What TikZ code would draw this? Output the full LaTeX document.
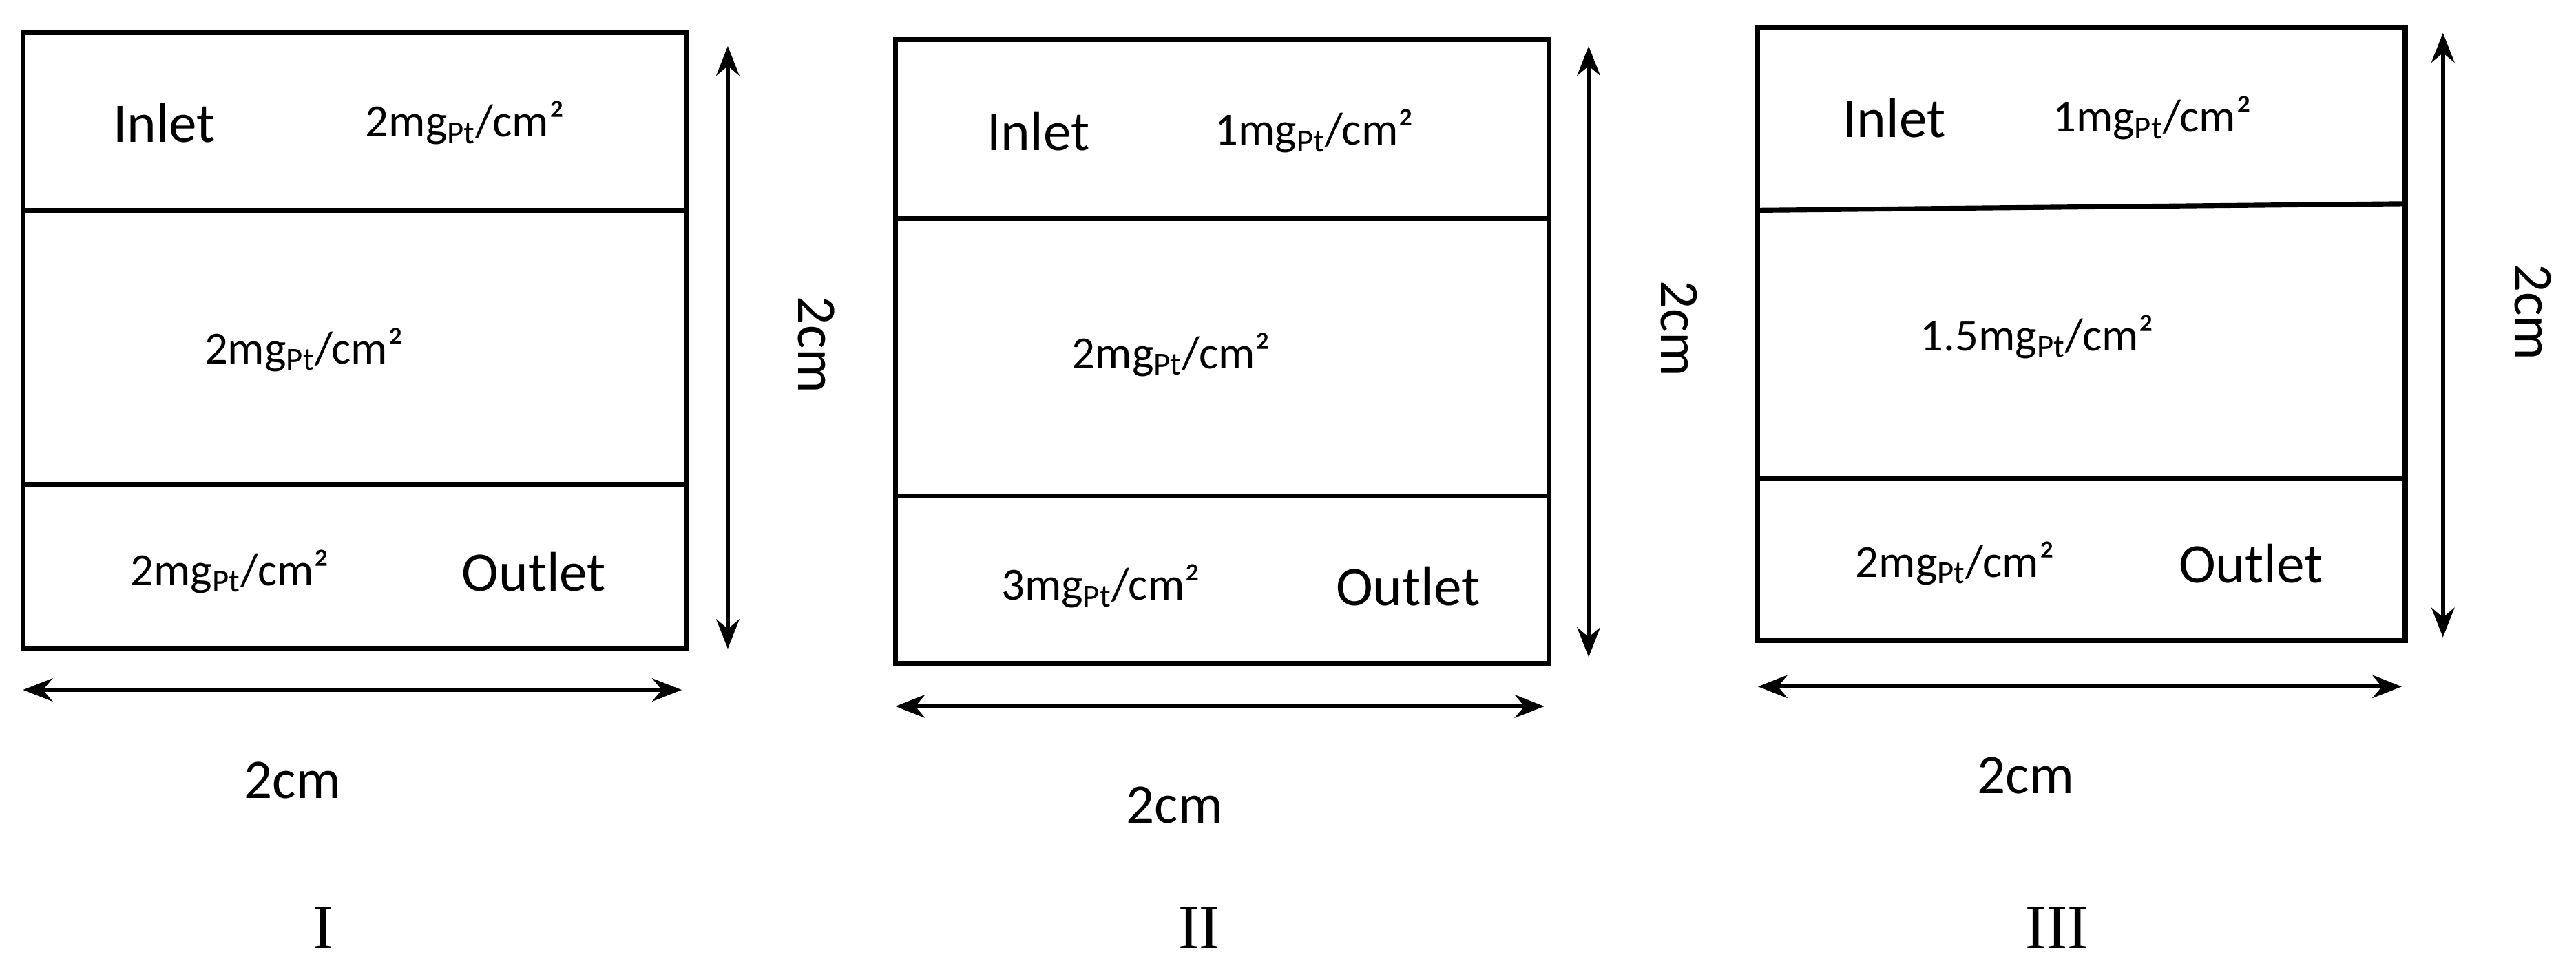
\documentclass[tikz,border=0pt]{standalone}
\usepackage{fontspec}
\setmainfont{Carlito}
\newfontfamily\serifnum{Liberation Serif}
\usetikzlibrary{arrows.meta}
\begin{document}
\begin{tikzpicture}[x=1pt,y=-1pt,
 box/.style={line width=3pt},
 dim/.style={line width=2.5pt,{Stealth[length=18pt,width=14pt]}-{Stealth[length=18pt,width=14pt]}},
 lab/.style={font=\fontsize{34}{38}\selectfont},
 sm/.style={font=\fontsize{28}{32}\selectfont},
 num/.style={font=\serifnum\fontsize{38}{42}\selectfont}]
\useasboundingbox (0,0) rectangle (1568,589);
\newcommand\mg[1]{#1mg\textsubscript{Pt}/cm²}
% Box I
\draw[box] (14,20) rectangle (418,395);
\draw[box] (14,128) -- (418,128); \draw[box] (14,295) -- (418,295);
\coordinate (a1) at (443,28); \coordinate (a2) at (443,395);
\draw[dim] (a1) -- (a2);
\coordinate (b1) at (14,420); \coordinate (b2) at (415,420);
\draw[dim] (b1) -- (b2);
\node[lab] (i1) at (100,75) {Inlet};
\node[sm] (i2) at (283,75) {\mg{2}};
\node[sm] (i3) at (185,213) {\mg{2}};
\node[sm] (i4) at (140,348) {\mg{2}};
\node[lab] (i5) at (325,348) {Outlet};
\node[lab] (i6) at (178,475) {2cm};
\node[lab,rotate=-90] (i7) at (497,210) {2cm};
\node[num] (i8) at (197,565) {I};
% Box II
\draw[box] (545,24) rectangle (943,404);
\draw[box] (545,133) -- (943,133); \draw[box] (545,302) -- (943,302);
\coordinate (c1) at (967,28); \coordinate (c2) at (967,400);
\draw[dim] (c1) -- (c2);
\coordinate (d1) at (545,430); \coordinate (d2) at (940,430);
\draw[dim] (d1) -- (d2);
\node[lab] (j1) at (632,80) {Inlet};
\node[sm] (j2) at (800,80) {\mg{1}};
\node[sm] (j3) at (713,216) {\mg{2}};
\node[sm] (j4) at (670,357) {\mg{3}};
\node[lab] (j5) at (857,357) {Outlet};
\node[lab] (j6) at (715,490) {2cm};
\node[lab,rotate=-90] (j7) at (1022,200) {2cm};
\node[num] (j8) at (730,565) {II};
% Box III
\draw[box] (1070,17) rectangle (1464,390);
\draw[box] (1070,128) -- (1464,124); \draw[box] (1070,291) -- (1464,291);
\coordinate (e1) at (1487,20); \coordinate (e2) at (1487,388);
\draw[dim] (e1) -- (e2);
\coordinate (f1) at (1070,418); \coordinate (f2) at (1462,418);
\draw[dim] (f1) -- (f2);
\node[lab] (k1) at (1153,72) {Inlet};
\node[sm] (k2) at (1310,72) {\mg{1}};
\node[sm] (k3) at (1240,205) {\mg{1.5}};
\node[sm] (k4) at (1190,343) {\mg{2}};
\node[lab] (k5) at (1370,343) {Outlet};
\node[lab] (k6) at (1233,472) {2cm};
\node[lab,rotate=-90] (k7) at (1542,190) {2cm};
\node[num] (k8) at (1252,565) {III};
\end{tikzpicture}
\end{document}
